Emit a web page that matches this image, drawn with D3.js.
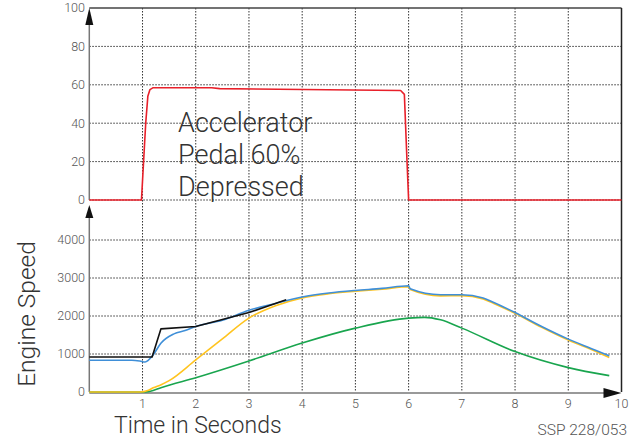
<!DOCTYPE html>
<html><head><meta charset="utf-8">
<script src="https://cdn.jsdelivr.net/npm/d3@7"></script>
<style>
body{margin:0;background:#fff;}
svg{display:block;}
text{font-family:Roboto,"Liberation Sans",sans-serif;font-weight:300;}
</style></head>
<body><svg id="c" width="640" height="439"></svg>
<script>
// ---- data ----
const xTicks = [1,2,3,4,5,6,7,8,9,10];
const pedalTicks = [0,20,40,60,80,100];
const speedTicks = [0,1000,2000,3000,4000];
const pedalT = [0,0.98,1.06,1.1,1.14,1.2,2.3,2.45,5.85,5.92,5.97,6.0,10];
const pedalV = [0,0,40,54,57.5,58.5,58.5,58,57,55,20,0,0];
const blackT = [0,1.18,1.345,2,3,3.7];
const blackV = [920,920,1660,1725,2090,2430];
const blueT = [0,0.8,0.95,1.05,1.2,1.345,1.59,1.8,2,2.5,3,3.5,4,4.5,5,5.5,6,6.03,6.6,7,7.4,7.6,8,8.5,9,9.5,9.77];
const blueV = [836,836,815,790,976,1284,1530,1617,1723,1890,2150,2330,2500,2604,2673,2726,2797,2715,2559,2559,2472,2356,2092,1723,1391,1108,950];
const yellowT = [0,0.95,1.1,1.2,1.35,1.5,2,2.5,3,3.5,4,4.5,5,5.5,6,6.03,6.6,7,7.4,7.6,8,8.5,9,9.5,9.77];
const yellowV = [0,0,40,110,193,298,844,1398,1945,2269,2475,2585,2650,2705,2770,2695,2530,2535,2450,2330,2070,1700,1365,1080,910];
const greenT = [0,1.0,1.1,1.2,1.345,2,3,4,5,6,6.3,6.6,7,8,9,9.77];
const greenV = [0,0,10,40,113,377,818,1290,1681,1945,1965,1900,1681,1063,641,430];
const speedLabel = "Engine Speed";
const timeLabel = "Time in Seconds";
const noteLines = ["Accelerator","Pedal 60%","Depressed"];
const refLabel = "SSP 228/053";

const svg = d3.select("#c");
const x = d3.scaleLinear().domain([0,10]).range([89.3,621.5]);
const yP = d3.scaleLinear().domain([0,100]).range([200,8]);
const yS = d3.scaleLinear().domain([0,4000]).range([392,240]);

const dot = "1.5,1.5";
// vertical gridlines
svg.append("g").selectAll("line").data(xTicks.filter(d=>d<10)).join("line")
  .attr("x1",d=>x(d)).attr("x2",d=>x(d)).attr("y1",yP(100)).attr("y2",yS(0))
  .attr("stroke","#333").attr("stroke-width",1).attr("stroke-dasharray",dot);
// horizontal gridlines
svg.append("g").selectAll("line").data(pedalTicks.filter(d=>d<100)).join("line")
  .attr("x1",x(0)).attr("x2",x(10)).attr("y1",d=>yP(d)).attr("y2",d=>yP(d))
  .attr("stroke","#333").attr("stroke-width",1).attr("stroke-dasharray",dot);
svg.append("g").selectAll("line").data(speedTicks.filter(d=>d>0)).join("line")
  .attr("x1",x(0)).attr("x2",x(10)).attr("y1",d=>yS(d)).attr("y2",d=>yS(d))
  .attr("stroke","#333").attr("stroke-width",1).attr("stroke-dasharray",dot);

// frame
svg.append("line").attr("x1",x(0)).attr("x2",x(10)).attr("y1",yP(100)).attr("y2",yP(100)).attr("stroke","#444").attr("stroke-width",1.5);
svg.append("line").attr("x1",x(10)).attr("x2",x(10)).attr("y1",yP(100)).attr("y2",yS(0)).attr("stroke","#222").attr("stroke-width",1.5);
svg.append("line").attr("x1",x(0)).attr("x2",x(0)).attr("y1",yP(0)).attr("y2",yP(100)+4).attr("stroke","#777").attr("stroke-width",1.5);
svg.append("line").attr("x1",x(0)).attr("x2",x(0)).attr("y1",yS(0)).attr("y2",yP(0)+8).attr("stroke","#777").attr("stroke-width",1.5);
svg.append("line").attr("x1",x(0)).attr("x2",x(10)-6).attr("y1",yS(0)+1).attr("y2",yS(0)+1).attr("stroke","#777").attr("stroke-width",1.5);
// arrows
const ax0 = x(0);
svg.append("path").attr("d",`M${ax0},${yP(100)} L${ax0-4},${yP(100)+17} L${ax0+4},${yP(100)+17}Z`).attr("fill","#111");
svg.append("path").attr("d",`M${ax0},${yP(0)+5} L${ax0-4},${yP(0)+18} L${ax0+4},${yP(0)+18}Z`).attr("fill","#111");
svg.append("path").attr("d",`M${x(10)},${yS(0)+1} L${x(10)-18},${yS(0)-4} L${x(10)-18},${yS(0)+6}Z`).attr("fill","#111");

// tick labels
const tickStyle = s => s.attr("fill","#555").attr("font-size",12.5);
svg.append("g").selectAll("text").data(pedalTicks).join("text")
  .attr("x",85).attr("y",d=>yP(d)).attr("dy","0.35em").attr("text-anchor","end").text(d=>d).call(tickStyle);
svg.append("g").selectAll("text").data(speedTicks).join("text")
  .attr("x",85).attr("y",d=>yS(d)).attr("dy","0.35em").attr("text-anchor","end").text(d=>d).call(tickStyle);
svg.append("g").selectAll("text").data(xTicks).join("text")
  .attr("x",d=>x(d)).attr("y",408).attr("text-anchor","middle").text(d=>d).call(tickStyle);

// lines
const mk = (T,V,ys,curve) => d3.line().x((d,i)=>x(T[i])).y(d=>ys(d)).curve(curve)(V);
const draw = (T,V,ys,col,curve) => svg.append("path").attr("d",mk(T,V,ys,curve))
  .attr("fill","none").attr("stroke",col).attr("stroke-width",1.6).attr("stroke-linejoin","round");
draw(pedalT,pedalV,yP,"#e8202a",d3.curveLinear);
draw(greenT,greenV,yS,"#19a54e",d3.curveMonotoneX);
draw(yellowT,yellowV,yS,"#ffc41f",d3.curveMonotoneX);
draw(blueT,blueV,yS,"#3f8fd8",d3.curveMonotoneX);
draw(blackT,blackV,yS,"#111",d3.curveLinear);

// texts
svg.append("g").selectAll("text").data(noteLines).join("text")
  .attr("x",178).attr("y",(d,i)=>132+i*32).attr("fill","#333").attr("font-size",27).text(d=>d);
svg.append("text").attr("transform","translate(35,314) rotate(-90)").attr("text-anchor","middle")
  .attr("fill","#333").attr("font-size",24.5).text(speedLabel);
svg.append("text").attr("x",114).attr("y",433).attr("fill","#333").attr("font-size",23).text(timeLabel);
svg.append("text").attr("x",627).attr("y",435).attr("text-anchor","end").attr("fill","#555").attr("font-size",15.5).text(refLabel);
</script></body></html>
